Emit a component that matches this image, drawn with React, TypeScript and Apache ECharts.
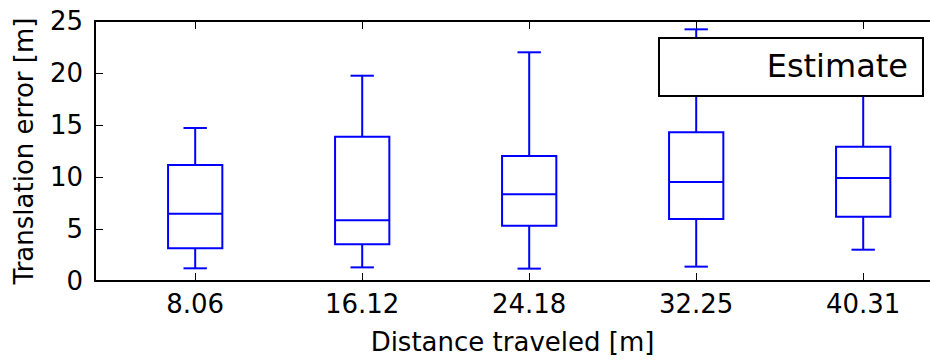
import React, { useEffect, useRef } from "react";
import * as echarts from "echarts";

const categories = ["8.06", "16.12", "24.18", "32.25", "40.31"];
const positions = [1, 2, 3, 4, 5];
const whiskerLow = [1.22, 1.31, 1.19, 1.38, 3.01];
const q1 = [3.14, 3.53, 5.32, 5.96, 6.18];
const median = [6.47, 5.83, 8.33, 9.52, 9.9];
const q3 = [11.15, 13.88, 12.02, 14.3, 12.91];
const whiskerHigh = [14.71, 19.74, 21.99, 24.2, 21.0];
const yTicks = [0, 5, 10, 15, 20, 25];
const legendLabel = "Estimate";

const FONT = "DejaVu Sans";
const BLUE = "#0000ff";

export default function App() {
  const ref = useRef<HTMLDivElement>(null);
  useEffect(() => {
    if (!ref.current) return;
    const chart = echarts.init(ref.current, undefined, { renderer: "svg" });
    const data = positions.map((p, i) => [p, whiskerLow[i], q1[i], median[i], q3[i], whiskerHigh[i]]);
    const boxW = 0.325;
    const capW = 0.14;
    const lineStyle = { stroke: BLUE, lineWidth: 2, fill: "none" };
    const option: any = {
      animation: false,
      backgroundColor: "#ffffff",
      textStyle: { fontFamily: FONT },
      grid: { left: 95, top: 21, width: 846, height: 260 },
      xAxis: [
        {
          type: "value",
          position: "bottom",
          min: 0.4,
          max: 5.4,
          axisLine: { show: true, onZero: false, lineStyle: { color: "#000", width: 2 } },
          axisTick: { show: true, inside: true, length: 8, customValues: positions, lineStyle: { color: "#000", width: 1 } },
          axisLabel: {
            show: true,
            customValues: positions,
            formatter: (v: number) => categories[Math.round(v) - 1] ?? "",
            fontSize: 26,
            color: "#000",
            fontFamily: FONT,
            margin: 10,
          },
          splitLine: { show: false },
          name: "Distance traveled [m]",
          nameLocation: "middle",
          nameGap: 48,
          nameTextStyle: { fontSize: 26, color: "#000", fontFamily: FONT },
        },
        {
          type: "value",
          position: "top",
          min: 0.4,
          max: 5.4,
          axisLine: { show: true, onZero: false, lineStyle: { color: "#000", width: 2 } },
          axisTick: { show: true, inside: true, length: 8, customValues: positions, lineStyle: { color: "#000", width: 1 } },
          axisLabel: { show: false },
          splitLine: { show: false },
        },
      ],
      yAxis: {
        type: "value",
        min: 0,
        max: 25,
        interval: 5,
        axisLine: { show: true, onZero: false, lineStyle: { color: "#000", width: 2 } },
        axisTick: { show: true, inside: true, length: 8, customValues: yTicks, lineStyle: { color: "#000", width: 1 } },
        axisLabel: { fontSize: 26, color: "#000", fontFamily: FONT, margin: 12 },
        splitLine: { show: false },
        name: "Translation error [m]",
        nameLocation: "middle",
        nameRotate: 90,
        nameGap: 58,
        nameTextStyle: { fontSize: 26, color: "#000", fontFamily: FONT },
      },
      series: [
        {
          type: "custom",
          xAxisIndex: 0,
          yAxisIndex: 0,
          data,
          encode: { x: 0, y: [1, 2, 3, 4, 5] },
          renderItem: (params: any, api: any) => {
            const x = api.value(0);
            const lo = api.coord([x, api.value(1)]);
            const b1 = api.coord([x, api.value(2)]);
            const md = api.coord([x, api.value(3)]);
            const b3 = api.coord([x, api.value(4)]);
            const hi = api.coord([x, api.value(5)]);
            const hw = api.size([boxW, 0])[0] / 2;
            const cw = api.size([capW, 0])[0] / 2;
            const cx = lo[0];
            return {
              type: "group",
              children: [
                { type: "line", shape: { x1: cx, y1: lo[1], x2: cx, y2: b1[1] }, style: lineStyle },
                { type: "line", shape: { x1: cx, y1: b3[1], x2: cx, y2: hi[1] }, style: lineStyle },
                { type: "line", shape: { x1: cx - cw, y1: lo[1], x2: cx + cw, y2: lo[1] }, style: lineStyle },
                { type: "line", shape: { x1: cx - cw, y1: hi[1], x2: cx + cw, y2: hi[1] }, style: lineStyle },
                { type: "rect", shape: { x: cx - hw, y: b3[1], width: hw * 2, height: b1[1] - b3[1] }, style: lineStyle },
                { type: "line", shape: { x1: cx - hw, y1: md[1], x2: cx + hw, y2: md[1] }, style: lineStyle },
              ],
            };
          },
        },
      ],
      graphic: [
        {
          type: "rect",
          z: 100,
          shape: { x: 659, y: 38, width: 264, height: 58 },
          style: { fill: "#fff", stroke: "#000", lineWidth: 2 },
        },
        {
          type: "text",
          z: 101,
          x: 908,
          y: 66,
          style: {
            text: legendLabel,
            fontSize: 32,
            fontFamily: FONT,
            fill: "#000",
            align: "right",
            verticalAlign: "middle",
          },
        },
      ],
    };
    chart.setOption(option);
    return () => chart.dispose();
  }, []);
  return (
    <div
      ref={ref}
      style={{ position: "absolute", left: 0, top: 0, width: 930, height: 360 }}
    />
  );
}
